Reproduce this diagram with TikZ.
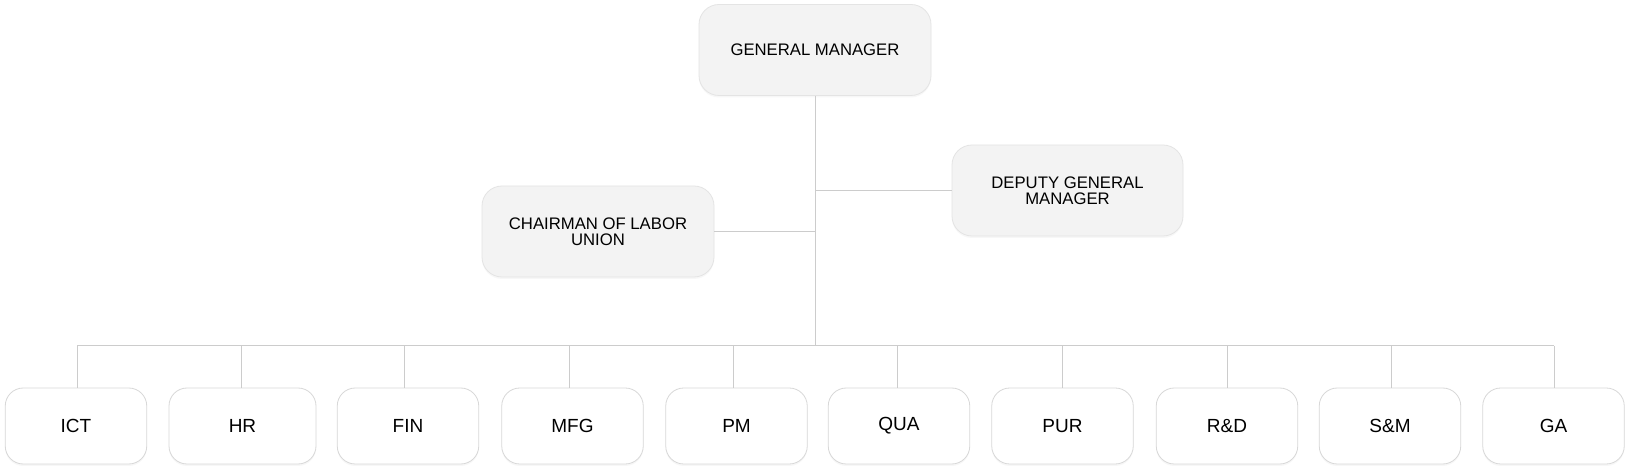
\documentclass[tikz,border=0pt]{standalone}
\usepackage{fontspec}
\setmainfont{Liberation Sans}
\usetikzlibrary{shadows}
\definecolor{topfill}{HTML}{F3F3F3}
\definecolor{topdraw}{HTML}{E4E4E4}
\definecolor{botdraw}{HTML}{D8D8D8}
\definecolor{linec}{HTML}{CCCCCC}
\tikzset{
  topbox/.style={draw=topdraw, line width=0.4pt, fill=topfill, rounded corners=10pt,
    minimum height=45.5pt, inner sep=0pt, align=center,
    font=\fontsize{8.35pt}{8.2pt}\selectfont,
    drop shadow={opacity=0.06, shadow xshift=0pt, shadow yshift=-1pt}},
  botbox/.style={draw=botdraw, line width=0.4pt, fill=white, rounded corners=9pt,
    minimum height=38pt, minimum width=70.75pt, inner sep=0pt, align=center,
    font=\fontsize{9.5pt}{10pt}\selectfont,
    drop shadow={opacity=0.06, shadow xshift=0pt, shadow yshift=-1pt}},
  conn/.style={draw=linec, line width=0.5pt}
}
\begin{document}
\begin{tikzpicture}[x=0.5pt, y=-0.5pt]
\useasboundingbox[fill=white] (0,0) rectangle (1630,470);
% upper boxes
\node[topbox, minimum width=116pt] (gm) at (815,50) {GENERAL MANAGER};
\node[topbox, minimum width=115.5pt] (dgm) at (1067.5,190.5) {DEPUTY GENERAL\\MANAGER};
\node[topbox, minimum width=116pt] (clu) at (598,231.5) {CHAIRMAN OF LABOR\\UNION};
% bottom boxes
\node[botbox] (ict) at (76,426) {ICT};
\node[botbox, minimum width=73.5pt] (hr) at (242.5,426) {HR};
\node[botbox] (fin) at (408,426) {FIN};
\node[botbox] (mfg) at (572.5,426) {MFG};
\node[botbox] (pm) at (736.5,426) {PM};
\node[botbox] (qua) at (899,426) {QUA};
\node[botbox] (pur) at (1062.5,426) {PUR};
\node[botbox] (rd) at (1227,426) {R\&D};
\node[botbox] (sm) at (1390,426) {S\&M};
\node[botbox] (ga) at (1553.5,426) {GA};
% junctions
\coordinate (jmain) at (815,346);
\coordinate (jd) at (815,191);
\coordinate (jc) at (815,232);
\coordinate (b1) at (77,346);
\coordinate (b2) at (241,346);
\coordinate (b3) at (404,346);
\coordinate (b4) at (569,346);
\coordinate (b5) at (733,346);
\coordinate (b6) at (897,346);
\coordinate (b7) at (1062,346);
\coordinate (b8) at (1227,346);
\coordinate (b9) at (1391,346);
\coordinate (b10) at (1554,346);
% connectors
\draw[conn] (gm.south) -- (jmain);
\draw[conn] (jd) -- (jd -| dgm.west);
\draw[conn] (jc) -- (jc -| clu.east);
\draw[conn] (b1) -- (b10);
\foreach \b/\n in {b1/ict,b2/hr,b3/fin,b4/mfg,b5/pm,b6/qua,b7/pur,b8/rd,b9/sm,b10/ga}
  \draw[conn] (\b) -- (\b |- \n.north);
\end{tikzpicture}
\end{document}
